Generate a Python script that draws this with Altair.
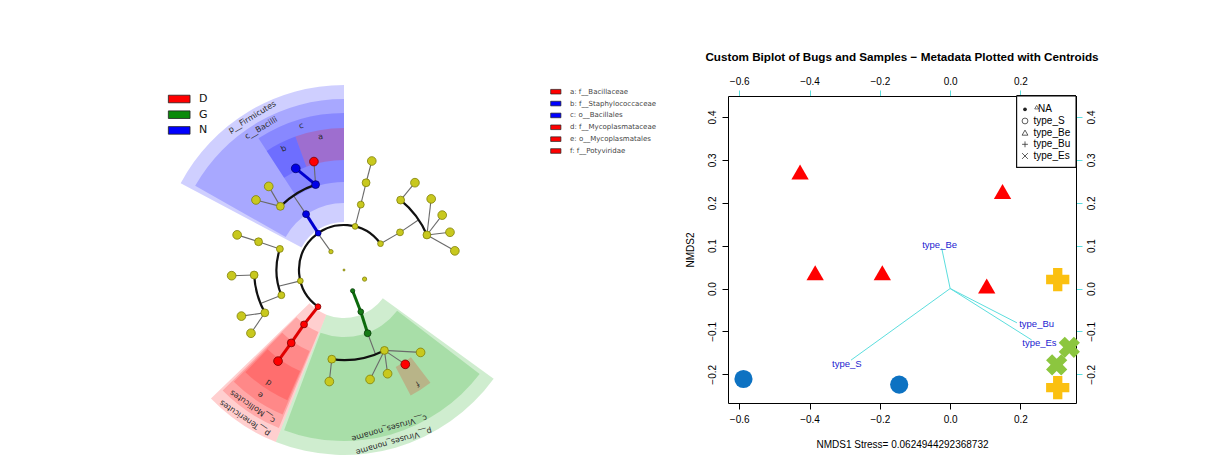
import altair as alt
import numpy as np
import pandas as pd

# ======================= Right panel: NMDS biplot data =======================
sample_type = ["type_Be"] * 5 + ["type_S"] * 2 + ["type_Bu"] * 2 + ["type_Es"] * 2
sample_nmds1 = [-0.427, 0.149, -0.384, -0.193, 0.104, -0.588, -0.145, 0.306, 0.306, 0.339, 0.303]
sample_nmds2 = [0.272, 0.226, 0.037, 0.037, 0.006, -0.211, -0.224, 0.021, -0.231, -0.137, -0.178]

vector_name = ["type_Be", "type_S", "type_Bu", "type_Es"]
vector_nmds1 = [-0.024, -0.282, 0.190, 0.232]
vector_nmds2 = [0.094, -0.167, -0.080, -0.120]
vlabel_nmds1 = [-0.030, -0.294, 0.246, 0.254]
vlabel_nmds2 = [0.101, -0.175, -0.083, -0.128]

legend_labels = ["NA", "type_S", "type_Be", "type_Bu", "type_Es"]
x_ticks = [-0.6, -0.4, -0.2, 0.0, 0.2]
y_ticks = [-0.2, -0.1, 0.0, 0.1, 0.2, 0.3, 0.4]

# ======================= Left panel: LEfSe cladogram data =======================
node_id = ["root",
           "k_bac", "k_vir", "k_oth",
           "p_fir", "p_a", "p_b", "p_c", "p_ten", "p_vir",
           "c_bac", "c_a", "c_b", "c_c1", "c_c2", "c_mol", "c_vir",
           "o_bacl", "o_x", "o_a", "o_b1", "o_b2", "o_c1", "o_c2a", "o_c2b", "o_myc", "o_v1", "o_v2",
           "f_sta", "f_bacc", "f_x1", "f_x2", "f_a", "f_b1", "f_b2a", "f_b2b", "f_b2c", "f_b2d",
           "f_c1", "f_c2a", "f_c2b1", "f_c2b2", "f_myc", "f_v1", "f_pot", "f_v3", "f_v4", "f_v5"]
node_parent = ["",
               "", "", "",
               "k_bac", "k_bac", "k_bac", "k_bac", "k_bac", "k_vir",
               "p_fir", "p_a", "p_b", "p_c", "p_c", "p_ten", "p_vir",
               "c_bac", "c_bac", "c_a", "c_b", "c_b", "c_c1", "c_c2", "c_c2", "c_mol", "c_vir", "c_vir",
               "o_bacl", "o_bacl", "o_x", "o_x", "o_a", "o_b1", "o_b2", "o_b2", "o_b2", "o_b2",
               "o_c1", "o_c2a", "o_c2b", "o_c2b", "o_myc", "o_v1", "o_v1", "o_v1", "o_v1", "o_v2"]
node_angle = [0.0,
              -35.4, 157.5, 113.9,
              -35.0, 14.3, 54.2, -104.0, -144.7, 158.1,
              -34.2, 14.4, 56.1, -71.8, -111.9, -143.7, 159.5,
              -18.4, -45.0, 14.2, 39.0, 67.1, -71.7, -93.2, -118.4, -144.1, 153.3, 187.8,
              -25.4, -15.5, -42.0, -51.5, 14.3, 39.1, 50.8, 60.8, 70.4, 80.2,
              -71.8, -92.9, -114.2, -124.2, -144.1, 137.1, 147.0, 157.2, 166.6, 187.5]
node_level = [0,
              1, 1, 1,
              2, 2, 2, 2, 2, 2,
              3, 3, 3, 3, 3, 3, 3,
              4, 4, 4, 4, 4, 4, 4, 4, 4, 4, 4,
              5, 5, 5, 5, 5, 5, 5, 5, 5, 5,
              5, 5, 5, 5, 5, 5, 5, 5, 5, 5]
node_class = ["-",
              "-", "G", "-",
              "N", "-", "-", "-", "D", "G",
              "N", "-", "-", "-", "-", "D", "G",
              "N", "-", "-", "-", "-", "-", "-", "-", "D", "-", "-",
              "N", "D", "-", "-", "-", "-", "-", "-", "-", "-",
              "-", "-", "-", "-", "D", "-", "D", "-", "-", "-"]
arc_parents = ["k_bac", "p_c", "c_bac", "c_b", "c_c2", "c_vir"]

clade_label = ["p__Firmicutes", "c__Bacilli", "c", "b", "a",
               "p__Tenericutes", "c__Mollicutes", "e", "d",
               "p__Viruses_noname", "c__Viruses_noname", "f"]
clade_class = ["N", "N", "N", "N", "D", "D", "D", "D", "D", "G", "G", "D"]
clade_rank = [2, 3, 4, 5, 5, 2, 3, 4, 5, 2, 3, 5]
clade_start = [-62.0, -60.5, -33.0, -33.0, -20.0, -158.4, -157.6, -157.0, -156.5, 126.0, 127.5, 142.5]
clade_end = [0.0, 0.0, 0.0, -20.0, 0.0, -134.0, -134.8, -135.4, -136.0, 201.6, 200.5, 152.0]

group_names = ["D", "G", "N"]
clade_legend = ["a: f__Bacillaceae", "b: f__Staphylococcaceae", "c: o__Bacillales",
                "d: f__Mycoplasmataceae", "e: o__Mycoplasmatales", "f: f__Potyviridae"]
clade_legend_class = ["D", "N", "N", "D", "D", "D"]

# ======================= geometry / styles =======================
W, H = 1196, 449
R_STEP = 22.5
RANK_INNER = {2: 48, 3: 67, 4: 88, 5: 110}
RANK_OUTER = {2: 185, 3: 171, 4: 157, 5: 142}

TX = alt.Scale(domain=[-200, 200], range=[136, 536], nice=False, zero=False)
TY = alt.Scale(domain=[-200, 200], range=[462, 62], nice=False, zero=False)
SX = alt.Scale(domain=[-0.632, 0.358], range=[720, 1068], nice=False, zero=False)
SY = alt.Scale(domain=[-0.267, 0.449], range=[395, 88], nice=False, zero=False)

CLS = ["D", "G", "N", "-"]
SECTOR_FILL = alt.Scale(domain=CLS, range=["#ff0000", "#00a000", "#0000ff", "#cccccc"])
NODE_FILL = alt.Scale(domain=CLS, range=["#ff0000", "#167a16", "#0000e6", "#c8c81e"])
NODE_STROKE = alt.Scale(domain=CLS, range=["#7a0000", "#0a3d0a", "#00006e", "#80800a"])
EDGE_COL = alt.Scale(domain=CLS, range=["#e00000", "#0c6a0c", "#0000d0", "#666666"])
LEG_FILL = alt.Scale(domain=CLS, range=["#ff0000", "#0a8a0a", "#0000ff", "#cccc00"])
CYAN = "#5cdede"
TREE_FONT = "DejaVu Sans"
R_FONT = "Liberation Sans"

# ---------- tree tables ----------
nodes = pd.DataFrame({"id": node_id, "parent": node_parent, "angle": node_angle,
                      "level": node_level, "cls": node_class})
nodes["r"] = nodes["level"] * R_STEP
rad = np.radians(nodes["angle"])
nodes["x"] = nodes["r"] * np.sin(rad)
nodes["y"] = nodes["r"] * np.cos(rad)
pos = nodes.set_index("id")

thin_rows, thick_rows, arc_rows = [], [], []
for pid, grp in nodes[nodes["parent"] != ""].groupby("parent"):
    p = pos.loc[pid]
    if pid in arc_parents:
        rr = grp["level"].iloc[0] * R_STEP
        a = np.radians(p["angle"])
        thin_rows.append(dict(x=p["x"], y=p["y"], x2=rr * np.sin(a), y2=rr * np.cos(a)))
        angs = list(grp["angle"]) + [p["angle"]]
        a0, a1 = min(angs), max(angs)
        if a0 < 0:
            a0 += 360
            a1 += 360
        arc_rows.append(dict(cx=0.0, cy=0.0, t0=np.radians(a0), t1=np.radians(a1), r=rr))
    else:
        for _, c in grp.iterrows():
            row = dict(x=p["x"], y=p["y"], x2=c["x"], y2=c["y"], cls=c["cls"])
            if c["cls"] != "-" and c["cls"] == p["cls"]:
                thick_rows.append(row)
            else:
                thin_rows.append(row)
thin_df = pd.DataFrame(thin_rows)
thick_df = pd.DataFrame(thick_rows)
arc_df = pd.DataFrame(arc_rows)

sec = pd.DataFrame({"label": clade_label, "cls": clade_class, "rank": clade_rank,
                    "a0": clade_start, "a1": clade_end})
shift = np.where(sec["a0"] < 0, 360.0, 0.0)
sec["t0"] = np.radians(sec["a0"] + shift)
sec["t1"] = np.radians(sec["a1"] + shift)
sec["rin"] = sec["rank"].map(RANK_INNER)
sec["rout"] = sec["rank"].map(RANK_OUTER)
sec["cx"] = 0.0
sec["cy"] = 0.0
mid = (sec["a0"] + sec["a1"]) / 2.0
lab_r = sec["rout"] - 7
sec["lx"] = lab_r * np.sin(np.radians(mid))
sec["ly"] = lab_r * np.cos(np.radians(mid))
sec["ang"] = np.mod(mid, 360.0)

tx = lambda f: alt.X(f, scale=TX, axis=None)
ty = lambda f: alt.Y(f, scale=TY, axis=None)

layers = []

# sectors
layers.append(alt.Chart(sec).mark_arc(fillOpacity=0.19, strokeWidth=0).encode(
    x=tx("cx:Q"), y=ty("cy:Q"),
    theta=alt.Theta("t0:Q", scale=None, stack=False), theta2="t1:Q",
    radius=alt.Radius("rout:Q", scale=None, stack=False), radius2="rin:Q",
    fill=alt.Fill("cls:N", scale=SECTOR_FILL, legend=None)))

# thin edges
layers.append(alt.Chart(thin_df).mark_rule(color="#6a6a6a", strokeWidth=1.1).encode(
    x=tx("x:Q"), y=ty("y:Q"), x2="x2:Q", y2="y2:Q"))
# black arcs joining siblings
layers.append(alt.Chart(arc_df).mark_arc(filled=False, color="#111111", strokeWidth=2.2,
                                         strokeJoin="round", strokeCap="round").encode(
    x=tx("cx:Q"), y=ty("cy:Q"),
    theta=alt.Theta("t0:Q", scale=None, stack=False), theta2="t1:Q",
    radius=alt.Radius("r:Q", scale=None, stack=False), radius2="r:Q"))
# thick coloured edges
layers.append(alt.Chart(thick_df).mark_rule(strokeWidth=3).encode(
    x=tx("x:Q"), y=ty("y:Q"), x2="x2:Q", y2="y2:Q",
    color=alt.Color("cls:N", scale=EDGE_COL, legend=None)))
# nodes
layers.append(alt.Chart(nodes).mark_point(filled=True, shape="circle", opacity=1, strokeWidth=0.8).encode(
    x=tx("x:Q"), y=ty("y:Q"),
    fill=alt.Fill("cls:N", scale=NODE_FILL, legend=None),
    stroke=alt.Stroke("cls:N", scale=NODE_STROKE, legend=None),
    size=alt.Size("level:O", scale=alt.Scale(domain=[0, 1, 2, 3, 4, 5], range=[4, 76, 84, 84, 84, 80]), legend=None)))
# sector labels
layers.append(alt.Chart(sec).mark_text(font=TREE_FONT, fontSize=8, color="#2a2a2a",
                                       align="center", baseline="middle").encode(
    x=tx("lx:Q"), y=ty("ly:Q"), text="label:N", angle=alt.Angle("ang:Q", scale=None)))

# D / G / N legend
grp_df = pd.DataFrame({"cls": group_names, "row": list(range(len(group_names)))})
GROW = alt.Y("row:Q", scale=alt.Scale(domain=[0, 2], range=[91, 122.4]), axis=None)
layers.append(alt.Chart(grp_df).mark_point(shape="M-1,-0.35H1V0.35H-1Z", filled=True, size=470, opacity=1,
                                           stroke="#222222", strokeWidth=0.8).encode(
    x=alt.value(171.2), y=GROW, fill=alt.Fill("cls:N", scale=LEG_FILL, legend=None)))
layers.append(alt.Chart(grp_df).mark_text(font=TREE_FONT, fontSize=11, align="left", baseline="middle",
                                          color="#111111").encode(
    x=alt.value(191), y=GROW, text="cls:N"))

# clade legend a-f
cl_df = pd.DataFrame({"label": clade_legend, "cls": clade_legend_class, "row": list(range(len(clade_legend)))})
CROW = alt.Y("row:Q", scale=alt.Scale(domain=[0, 5], range=[83.7, 143]), axis=None)
layers.append(alt.Chart(cl_df).mark_point(shape="M-1,-0.45H1V0.45H-1Z", filled=True, size=105, opacity=1,
                                          stroke="#222222", strokeWidth=0.7).encode(
    x=alt.value(547.8), y=CROW, fill=alt.Fill("cls:N", scale=LEG_FILL, legend=None)))
layers.append(alt.Chart(cl_df).mark_text(font=TREE_FONT, fontSize=7, align="left", baseline="middle",
                                         color="#444444").encode(
    x=alt.value(562), y=CROW, text="label:N"))

# ---------- biplot ----------
samp = pd.DataFrame({"type": sample_type, "nmds1": sample_nmds1, "nmds2": sample_nmds2})
vec = pd.DataFrame({"name": vector_name, "nmds1": vector_nmds1, "nmds2": vector_nmds2,
                    "lx": vlabel_nmds1, "ly": vlabel_nmds2, "o1": 0.0, "o2": 0.0})

axis_common = dict(values=x_ticks, format=".1f", tickSize=6, labelFontSize=10, labelFont=R_FONT,
                   labelColor="black", domainColor="black", labelOverlap=False, labelFlush=False,
                   labelBound=False, grid=False, titleFont=R_FONT, titleFontSize=10,
                   titleFontWeight="normal", titleColor="black")
x_bottom = alt.Axis(orient="bottom", offset=395 - H, tickColor="black", labelPadding=5,
                    title="NMDS1 Stress= 0.0624944292368732", titlePadding=15, **axis_common)
x_top = alt.Axis(orient="top", offset=-88, tickColor=CYAN, labelPadding=4, title=None,
                 **axis_common)
yax_common = dict(axis_common)
yax_common["values"] = y_ticks
y_left = alt.Axis(orient="left", offset=-720, tickColor="black", labelPadding=5, labelAngle=270,
                  labelAlign="center", labelBaseline="bottom", title="NMDS2", titlePadding=12,
                  **yax_common)
y_right = alt.Axis(orient="right", offset=1068 - W, tickColor=CYAN, labelPadding=4, labelAngle=270,
                   labelAlign="center", labelBaseline="top", title=None, **yax_common)

# arrows
layers.append(alt.Chart(vec).mark_rule(color=CYAN, strokeWidth=1).encode(
    x=alt.X("o1:Q", scale=SX, axis=None), y=alt.Y("o2:Q", scale=SY, axis=None),
    x2="nmds1:Q", y2="nmds2:Q"))
layers.append(alt.Chart(vec).mark_text(font=R_FONT, fontSize=9.5, color="#1c1cd0").encode(
    x=alt.X("lx:Q", scale=SX, axis=None), y=alt.Y("ly:Q", scale=SY, axis=None), text="name:N"))

# sample points (also carry the axes)
layers.append(alt.Chart(samp).transform_filter(alt.datum.type == "type_Be").mark_point(
    shape="triangle-up", filled=True, color="#ff0000", size=300, opacity=1).encode(
    x=alt.X("nmds1:Q", scale=SX, axis=x_bottom), y=alt.Y("nmds2:Q", scale=SY, axis=y_left)))
layers.append(alt.Chart(samp).transform_filter(alt.datum.type == "type_S").mark_point(
    shape="circle", filled=True, color="#0d72c2", size=330, opacity=1).encode(
    x=alt.X("nmds1:Q", scale=SX, axis=x_top), y=alt.Y("nmds2:Q", scale=SY, axis=y_right)))
layers.append(alt.Chart(samp).transform_filter(alt.datum.type == "type_Bu").mark_point(
    shape="cross", filled=True, color="#fbc010", size=540, opacity=1).encode(
    x=alt.X("nmds1:Q", scale=SX, axis=None), y=alt.Y("nmds2:Q", scale=SY, axis=None)))
layers.append(alt.Chart(samp).transform_filter(alt.datum.type == "type_Es").mark_point(
    shape="cross", filled=True, color="#8cc63f", size=460, opacity=1, angle=45).encode(
    x=alt.X("nmds1:Q", scale=SX, axis=None), y=alt.Y("nmds2:Q", scale=SY, axis=None)))

# legend box inside the biplot
leg = pd.DataFrame({"label": legend_labels, "row": list(range(len(legend_labels)))})
LROW = alt.Y("row:Q", scale=alt.Scale(domain=[0, 4], range=[101.3, 148]), axis=None)
layers.append(alt.Chart(leg).mark_rect(fill="white", stroke="black", strokeWidth=1).encode(
    x=alt.value(1008.7), x2=alt.value(1068), y=alt.value(88), y2=alt.value(159.3)))
layers.append(alt.Chart(leg).transform_filter(alt.datum.row == 0).mark_point(
    shape="circle", filled=True, color="#222222", size=14, opacity=1).encode(x=alt.value(1017), y=LROW))
layers.append(alt.Chart(leg).transform_filter(alt.datum.row > 0).mark_point(
    filled=False, color="#333333", size=34, strokeWidth=0.8, opacity=1).encode(
    x=alt.value(1017), y=LROW,
    shape=alt.Shape("label:N", scale=alt.Scale(
        domain=legend_labels,
        range=["circle", "circle", "triangle-up", "M-1,0H1M0,-1V1", "M-1,-1L1,1M-1,1L1,-1"]), legend=None)))
layers.append(alt.Chart(leg).transform_filter(alt.datum.row == 0).mark_point(
    shape="triangle-up", filled=False, color="#333333", size=16, strokeWidth=0.7, opacity=1).encode(
    x=alt.value(1028.7), y=alt.value(99.2)))
layers.append(alt.Chart(leg).transform_filter(alt.datum.row > 0).mark_text(
    font=R_FONT, fontSize=10, align="left", baseline="middle", color="black").encode(
    x=alt.value(1025.5), y=LROW, text="label:N"))
layers.append(alt.Chart(leg).transform_filter(alt.datum.row == 0).mark_text(
    font=R_FONT, fontSize=10, align="left", baseline="middle", color="black").encode(
    x=alt.value(1030), y=LROW, text="label:N"))

# main title of the biplot
layers.append(alt.Chart(leg).transform_filter(alt.datum.row == 0).mark_text(
    font=R_FONT, fontSize=11.7, fontWeight="bold", align="center", baseline="middle", color="black",
    text="Custom Biplot of Bugs and Samples \u2212 Metadata Plotted with Centroids").encode(
    x=alt.value(894), y=alt.value(49)))

chart = alt.layer(*layers).resolve_scale(
    x="independent", y="independent", color="independent", fill="independent",
    stroke="independent", size="independent", shape="independent"
).properties(
    width=W, height=H, padding=0, autosize=alt.AutoSizeParams(type="none")
).configure_view(stroke=None).configure_axis(grid=False)

chart.save("out.html", embed_options={"renderer": "svg", "actions": False})
